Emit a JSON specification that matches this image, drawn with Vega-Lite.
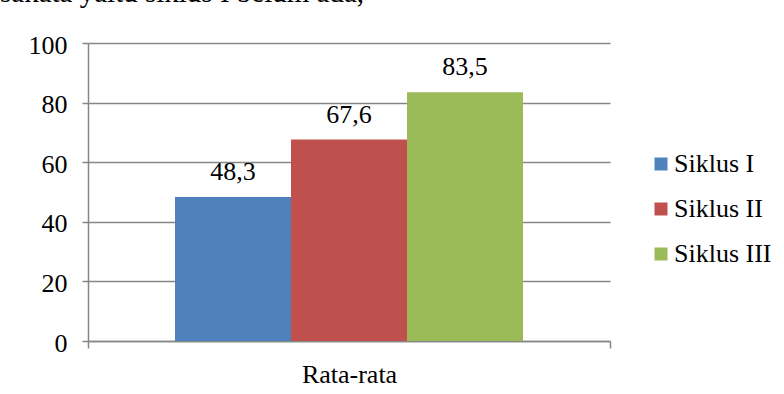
{
  "$schema": "https://vega.github.io/schema/vega-lite/v6.json",
  "autosize": "none",
  "width": 522,
  "height": 298,
  "padding": {"left": 88, "top": 43, "right": 174, "bottom": 53},
  "background": "white",
  "title": {
    "text": "sakata yaitu siklus I belum ada,",
    "anchor": "start",
    "frame": "group",
    "font": "Liberation Serif",
    "fontSize": 29,
    "fontWeight": "normal",
    "color": "black",
    "dx": -88,
    "baseline": "alphabetic",
    "offset": 1
  },
  "data": {
    "values": [
      {"kategori": "Rata-rata", "siklus": "Siklus I", "nilai": 48.3},
      {"kategori": "Rata-rata", "siklus": "Siklus II", "nilai": 67.6},
      {"kategori": "Rata-rata", "siklus": "Siklus III", "nilai": 83.5}
    ]
  },
  "encoding": {
    "x": {
      "field": "kategori",
      "type": "nominal",
      "scale": {"paddingInner": 0, "paddingOuter": 0},
      "axis": {
        "title": null,
        "labelAngle": 0,
        "labelFont": "Liberation Serif",
        "labelFontSize": 26,
        "labelColor": "black",
        "labelPadding": 13,
        "domainColor": "#868686",
        "domainWidth": 1.5,
        "tickColor": "#868686",
        "tickWidth": 1.5,
        "tickSize": 7,
        "tickBand": "extent"
      }
    },
    "xOffset": {
      "field": "siklus",
      "type": "nominal",
      "scale": {"paddingInner": 0, "paddingOuter": 0.75}
    },
    "y": {
      "field": "nilai",
      "type": "quantitative",
      "scale": {"domain": [0, 100]},
      "axis": {
        "title": null,
        "values": [0, 20, 40, 60, 80, 100],
        "grid": true,
        "gridColor": "#868686",
        "gridWidth": 1.5,
        "domainColor": "#868686",
        "domainWidth": 1.5,
        "tickColor": "#868686",
        "tickWidth": 1.5,
        "tickSize": 6,
        "labelPadding": 15,
        "labelOffset": 2,
        "labelFont": "Liberation Serif",
        "labelFontSize": 26,
        "labelColor": "black"
      }
    }
  },
  "layer": [
    {
      "mark": {"type": "bar"},
      "encoding": {
        "color": {
          "field": "siklus",
          "type": "nominal",
          "scale": {"domain": ["Siklus I", "Siklus II", "Siklus III"], "range": ["#4F81BD", "#C0504D", "#9BBB59"]},
          "legend": {
            "title": null,
            "orient": "none",
            "legendX": 560,
            "legendY": 108,
            "symbolType": "square",
            "symbolSize": 169,
            "symbolStrokeWidth": 0,
            "labelFont": "Liberation Serif",
            "labelFontSize": 26,
            "labelColor": "black",
            "labelOffset": 0,
            "rowPadding": 19,
            "padding": 0
          }
        }
      }
    },
    {
      "mark": {"type": "text", "baseline": "alphabetic", "align": "center", "dy": -17, "font": "Liberation Serif", "fontSize": 26, "color": "black"},
      "encoding": {
        "text": {"field": "nilai", "type": "quantitative", "format": ".1f"}
      }
    }
  ],
  "config": {
    "font": "Liberation Serif",
    "locale": {"number": {"decimal": ",", "thousands": ".", "grouping": [3], "currency": ["", ""]}},
    "view": {"stroke": null}
  }
}
